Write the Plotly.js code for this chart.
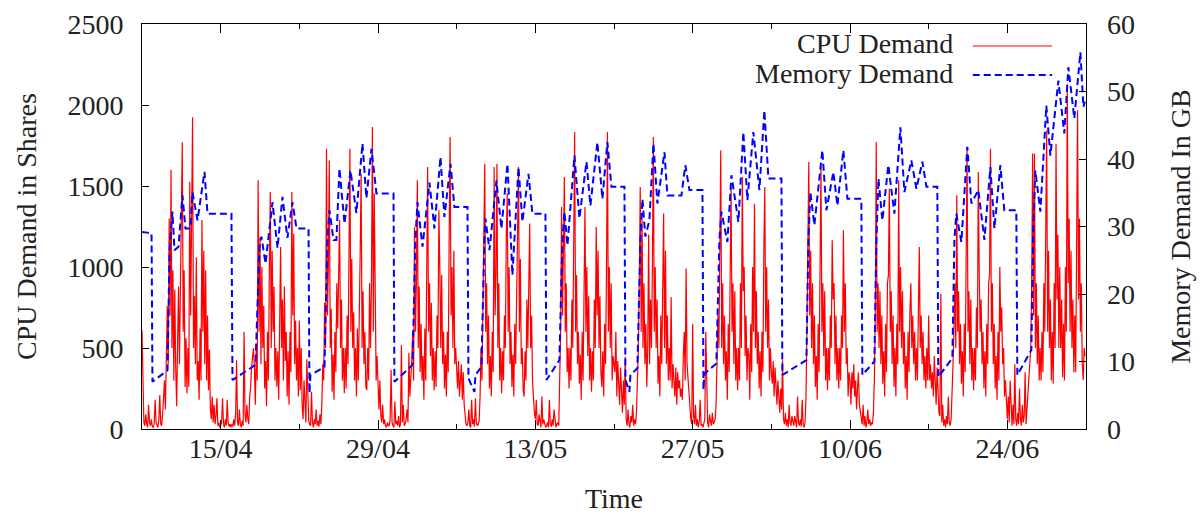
<!DOCTYPE html>
<html><head><meta charset="utf-8">
<script src="https://cdn.plot.ly/plotly-3.0.1.min.js"></script>
<style>html,body{margin:0;padding:0;background:#fff}#chart{width:1204px;height:514px}</style>
</head><body><div id="chart"></div>
<script>
// Time origin and sampling of the CPU trace
const startDate = '2013-04-08';
const endDate = '2013-07-01';
const cpuStepHours = 2;

// CPU demand (shares), 12 samples per day, one array per week
const cpuWeek1 = [
 610,180,40,20,90,30,10,150,40,20,60,15,
 10,30,180,40,20,10,60,210,30,20,90,250,
 300,120,520,760,400,1300,700,1600,500,980,300,860,
 380,140,520,880,400,1000,1640,1770,600,980,260,560,
 220,500,260,1525,700,1180,1925,500,820,400,1060,300,
 420,180,620,300,1290,600,1100,400,980,300,700,240,
 490,120,60,200,40,150,30,80,190,20,40,10];
const cpuWeek2 = [
 20,40,190,30,10,60,20,180,40,15,30,10,
 30,15,60,20,90,425,40,20,120,30,10,50,
 20,600,90,40,150,60,30,200,260,380,450,500,
 380,150,520,300,1535,600,1185,400,1000,500,760,250,
 420,140,600,300,1000,1463,500,1100,600,880,300,500,
 260,480,180,900,1124,500,800,300,880,420,600,200,
 480,150,600,350,1463,700,1206,400,670,300,500,200];
const cpuWeek3 = [
 670,240,500,150,60,300,90,40,430,120,50,30,
 20,230,40,10,60,30,120,20,50,15,90,30,
 150,400,300,780,500,1730,700,1000,1658,500,740,230,
 460,180,600,350,900,620,1000,1290,500,800,300,500,
 220,500,250,700,400,1200,1730,600,1050,500,720,300,
 500,200,620,300,950,1100,1576,500,850,400,600,260,
 240,500,300,900,500,880,1864,600,1453,500,300,450];
const cpuWeek4 = [
 250,120,300,80,40,150,30,60,20,10,40,20,
 20,60,364,40,20,10,170,30,50,20,80,10,
 30,518,40,150,20,30,60,120,40,470,200,300,
 420,600,300,1247,600,900,1535,500,880,350,650,300,
 450,180,620,300,850,1617,600,900,450,780,300,500,
 240,480,260,700,500,1350,1000,500,950,400,600,250,
 460,200,600,350,1200,1802,700,1000,500,1100,400,500];
const cpuWeek5 = [
 364,250,420,200,300,400,180,350,150,60,30,20,
 40,120,20,10,180,30,60,15,190,40,20,30,
 50,200,500,300,776,1453,1638,600,900,400,700,250,
 450,200,600,350,1617,700,950,1638,500,900,300,500,
 220,480,300,700,500,1196,1453,600,1000,400,600,260,
 460,200,650,400,1000,1200,1617,600,1050,400,500,240,
 200,480,300,800,500,1100,1268,500,700,300,150,100];
const cpuWeek6 = [
 60,180,30,20,90,40,10,200,30,60,20,10,
 20,40,10,180,30,15,60,20,120,40,10,30,
 40,20,300,600,1370,700,1100,1555,600,900,350,500,
 250,500,300,800,500,1100,1833,600,950,400,600,280,
 460,180,600,300,900,1370,600,1000,450,820,300,500,
 230,480,300,800,500,1247,700,1100,500,820,350,260,
 480,200,650,400,1000,1833,600,1000,500,900,300,450];
const cpuWeek7 = [
 400,350,600,200,420,300,150,380,250,100,300,150,
 446,60,20,120,30,10,80,40,150,20,60,30,
 100,300,500,900,1494,600,1290,500,900,400,650,260,
 500,1200,400,800,500,1000,1802,600,1000,500,800,280,
 450,200,700,400,1000,1330,500,1100,400,700,300,500,
 300,815,250,400,300,200,380,150,350,250,300,200,
 250,180,450,600,300,990,400,300,200,100,60,30];
const cpuWeek8 = [
 650,80,30,150,20,60,10,40,180,20,30,10,
 30,60,600,150,40,10,90,50,20,100,30,40,
 60,150,400,700,500,1100,1720,500,900,400,700,300,
 480,180,650,350,900,1494,600,900,400,850,300,500,
 240,500,300,900,500,1555,850,1000,450,700,300,500,
 460,180,650,350,1000,600,1391,500,850,400,600,250,
 480,200,600,350,1100,1494,600,1000,500,800,300,500];
const cpuWeek9 = [
 350,280,420,200,380,250,150,300,200,100,250,120,
 425,60,30,100,20,60,10,150,40,20,80,30,
 20,80,30,10,200,40,20,60,15,180,30,10,
 40,200,600,1000,1648,700,1100,500,900,400,700,260,
 450,180,650,350,950,1617,600,900,450,850,300,500,
 240,500,300,700,500,1165,800,900,400,700,300,500,
 250,500,300,700,500,1227,600,900,400,500,200,350];
const cpuWeek10 = [
 300,150,350,250,400,200,300,120,250,350,150,100,
 60,30,150,20,80,10,40,120,30,60,20,40,
 30,100,300,700,1771,600,900,500,850,400,700,280,
 480,200,650,350,900,950,1484,600,850,400,700,260,
 500,200,650,400,1535,600,1000,500,850,400,600,250,
 450,180,600,350,733,900,500,700,400,600,300,500,
 300,600,1124,500,700,400,600,300,450,250,500,300];
const cpuWeek11 = [
 700,300,400,250,350,200,450,300,150,380,200,100,
 80,836,40,150,20,60,10,80,30,200,40,20,
 60,200,400,615,900,500,1443,600,850,400,650,280,
 480,200,650,350,900,1740,600,850,400,800,300,500,
 240,500,300,750,500,1586,950,600,800,400,600,250,
 480,200,650,400,900,950,1730,600,900,400,650,250,
 450,180,600,300,1000,600,750,400,500,200,300,100];
const cpuWeek12 = [
 60,200,40,300,80,20,150,30,400,60,20,100,
 30,250,60,20,150,40,80,350,30,120,200,300,
 400,500,900,1700,700,1700,500,900,400,700,300,500,
 300,600,350,900,600,1100,1843,600,1100,500,800,300,
 600,280,900,500,1761,800,1200,500,1000,500,800,320,
 650,300,1000,600,2131,900,1300,600,1100,500,800,350,
 700,350,1000,1967,800,1300,600,900,400,302,500,450];

// Memory demand (GB): breakpoints, time in days since startDate
const memDay = [
 0,0.85,0.93,2.27,2.45,2.71,2.89,3.25,3.60,3.87,4.31,4.49,4.94,5.56,5.83,7.96,
 8.05,10.10,10.45,10.63,10.99,11.61,12.06,12.50,12.94,13.39,13.75,14.82,
 14.90,14.99,16.24,16.50,16.68,17.04,17.30,17.57,18.02,18.55,19.08,19.62,19.97,20.42,20.86,22.38,
 22.46,24.07,24.33,24.51,24.96,25.58,26.02,26.56,26.91,27.45,27.80,28.96,
 29.05,29.58,29.67,30.20,30.47,30.56,30.92,31.54,31.98,32.52,32.96,33.50,33.85,34.39,34.74,35.90,
 35.99,37.14,37.41,37.59,37.86,38.48,38.92,39.55,39.90,40.52,40.97,41.41,41.77,42.93,
 43.02,43.37,43.46,44.08,44.35,44.53,44.79,45.15,45.51,45.86,46.49,46.75,48.00,48.35,48.71,49.87,
 49.96,50.04,51.11,51.38,51.56,52.09,52.45,53.07,53.51,53.87,54.40,54.94,55.38,55.74,56.90,
 56.98,59.12,59.30,59.47,59.83,60.54,60.90,61.52,61.88,62.41,62.77,64.01,
 64.10,65.17,65.35,65.53,65.88,66.41,66.95,67.48,67.84,68.46,68.91,69.44,69.80,70.77,
 70.86,72.11,72.29,72.46,72.91,73.44,73.80,74.42,74.96,75.49,75.85,76.38,76.73,77.80,
 77.89,79.14,79.31,79.49,79.94,80.47,80.83,81.54,82.07,82.43,82.96,83.50,83.77,83.90];
const memGB = [
 29.2,29.0,7.0,8.7,26.5,32.2,26.5,27.0,34.6,29.7,29.7,35.1,30.9,38.1,31.9,31.9,
 7.25,9.5,27.0,28.5,24.5,33.6,26.8,34.4,28.3,33.6,29.7,29.7,
 5.3,8.0,9.2,28.0,32.4,28.0,28.0,38.6,30.4,38.3,32.0,42.3,34.2,41.5,34.9,34.9,
 7.0,9.5,28.0,33.6,27.0,36.5,29.7,40.3,31.4,39.3,32.9,32.9,
 7.5,5.5,8.0,9.2,28.0,31.2,26.5,36.8,29.7,39.3,22.8,38.8,30.7,37.8,31.9,31.9,
 7.25,10.2,28.0,32.2,27.2,40.5,31.2,39.6,33.1,42.5,34.1,42.5,35.9,35.9,
 7.25,5.5,8.0,9.0,28.0,34.1,28.5,30.9,42.3,33.4,41.0,34.6,34.6,39.1,35.4,35.4,
 5.8,8.2,9.7,28.0,32.2,27.7,37.6,30.7,44.0,33.9,44.0,35.4,47.2,37.1,37.1,
 8.0,10.2,28.0,35.1,30.2,41.3,32.4,38.1,33.1,41.3,34.1,34.1,
 8.0,10.0,28.0,37.1,30.9,39.1,31.9,44.7,35.1,39.8,35.6,39.6,35.9,35.9,
 7.7,10.5,28.0,31.9,27.7,41.8,33.4,35.4,28.0,38.8,29.7,39.1,32.4,32.4,
 8.0,11.7,30.0,38.3,32.2,47.9,40.5,51.6,43.8,53.6,46.0,55.8,47.7,48.5];

// Axis ticks
const xTickDates = ['2013-04-15','2013-04-29','2013-05-13','2013-05-27','2013-06-10','2013-06-24'];
const xTickText = ['15/04','29/04','13/05','27/05','10/06','24/06'];
const seriesNames = ['CPU Demand','Memory Demand'];

const t0 = Date.parse(startDate + 'T00:00:00Z');
const DAY = 86400000;
const cpu = [].concat(cpuWeek1,cpuWeek2,cpuWeek3,cpuWeek4,cpuWeek5,cpuWeek6,
                      cpuWeek7,cpuWeek8,cpuWeek9,cpuWeek10,cpuWeek11,cpuWeek12);
const fmt = ms => new Date(ms).toISOString().slice(0,19).replace('T',' ');
const cpuX = cpu.map((v,i) => fmt(t0 + i*cpuStepHours*3600000));
const memX = memDay.map(d => fmt(t0 + d*DAY));

const FONT = 'Liberation Serif, Times New Roman, serif';
const traces = [
  {x: cpuX, y: cpu, type:'scatter', mode:'lines', name: seriesNames[0],
   line:{color:'#ff0000', width:1.2}, showlegend:false, hoverinfo:'skip'},
  {x: memX, y: memGB, type:'scatter', mode:'lines', name: seriesNames[1], yaxis:'y2',
   line:{color:'#0000ff', width:2, dash:'7px,4px'}, showlegend:false, hoverinfo:'skip'}
];

const layout = {
  width:1204, height:514,
  margin:{l:142, r:118, t:24, b:85},
  paper_bgcolor:'#fff', plot_bgcolor:'#fff',
  font:{family:FONT, size:28, color:'#222'},
  xaxis:{type:'date', range:[startDate, endDate], tickmode:'array',
    tickvals:xTickDates, ticktext:xTickText,
    ticks:'inside', ticklen:9, tickcolor:'#000', showline:true, linecolor:'#000', linewidth:1,
    mirror:'ticks', showgrid:false, zeroline:false, ticklabelstandoff:-6,
    minor:{tickmode:'linear', tick0:startDate, dtick:7*DAY, ticks:'inside', ticklen:5, tickcolor:'#000', showgrid:false},
    title:{text:'Time', font:{family:FONT, size:28, color:'#222'}, standoff:30}},
  yaxis:{range:[0,2500], dtick:500, ticks:'inside', ticklen:7, tickcolor:'#000',
    showline:true, linecolor:'#000', linewidth:1, mirror:true, showgrid:false, zeroline:false,
    ticklabelstandoff:12,
    title:{text:'CPU Demand in Shares', font:{family:FONT, size:28, color:'#222'}, standoff:22}},
  yaxis2:{range:[0,60], dtick:10, overlaying:'y', side:'right', ticks:'inside', ticklen:7,
    tickcolor:'#000', showline:false, showgrid:false, zeroline:false, ticklabelstandoff:20,
    title:{text:'Memory Demand In GB', font:{family:FONT, size:28, color:'#222'}, standoff:36}},
  showlegend:false,
  annotations:[
    {xref:'paper', yref:'paper', x:0.861, y:0.951, xanchor:'right', yanchor:'middle', showarrow:false,
     text:seriesNames[0], font:{family:FONT, size:28, color:'#222'}},
    {xref:'paper', yref:'paper', x:0.861, y:0.879, xanchor:'right', yanchor:'middle', showarrow:false,
     text:seriesNames[1], font:{family:FONT, size:28, color:'#222'}}
  ],
  shapes:[
    {type:'line', xref:'paper', yref:'paper', x0:0.880, x1:0.964, y0:0.9457, y1:0.9457,
     line:{color:'#ff0000', width:1}},
    {type:'line', xref:'paper', yref:'paper', x0:0.880, x1:0.964, y0:0.874, y1:0.874,
     line:{color:'#0000ff', width:2, dash:'7px,4px'}}
  ]
};

Plotly.newPlot('chart', traces, layout, {staticPlot:true, displayModeBar:false});
</script>
</body></html>
